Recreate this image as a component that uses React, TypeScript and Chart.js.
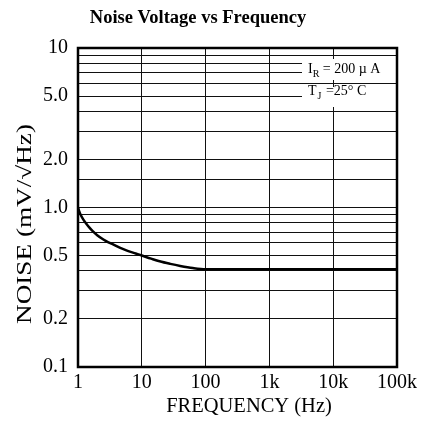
import React, { useEffect, useRef } from "react";
import { Chart, registerables } from "chart.js";

Chart.register(...registerables);

const frequencyHz = [1, 1.05, 1.1, 1.2, 1.35, 1.5, 1.7, 2, 2.5, 3, 3.6, 4.5, 6, 8, 10, 14, 19, 28, 40, 63, 100, 100000];
const noiseValues = [1.0, 0.94, 0.9, 0.845, 0.79, 0.75, 0.71, 0.67, 0.63, 0.605, 0.585, 0.56, 0.535, 0.515, 0.5, 0.478, 0.46, 0.443, 0.43, 0.417, 0.41, 0.41];
const xTickValues = [1, 10, 100, 1000, 10000, 100000];
const xTickLabels = ["1", "10", "100", "1k", "10k", "100k"];
const yLabelValues = [0.1, 0.2, 0.5, 1, 2, 5, 10];
const yLabelTexts = ["0.1", "0.2", "0.5", "1.0", "2.0", "5.0", "10"];

const FONT = "'Liberation Serif', 'Times New Roman', serif";

const overlayPlugin = {
  id: "overlay",
  beforeDatasetsDraw(chart: any) {
    const { ctx, chartArea } = chart;
    ctx.save();
    ctx.fillStyle = "#fff";
    ctx.fillRect(302, 59, chartArea.right - 302 - 1, 21);
    ctx.fillRect(302, 87, chartArea.right - 302 - 1, 20);
    ctx.restore();
  },
  afterDraw(chart: any) {
    const { ctx, chartArea } = chart;
    ctx.save();
    ctx.strokeStyle = "#000";
    ctx.lineWidth = 2.5;
    ctx.strokeRect(chartArea.left, chartArea.top, chartArea.right - chartArea.left, chartArea.bottom - chartArea.top);
    ctx.fillStyle = "#000";
    ctx.textAlign = "center";
    ctx.textBaseline = "middle";
    ctx.font = `bold 18.5px ${FONT}`;
    ctx.fillText("Noise Voltage vs Frequency", 198, 18);
    ctx.font = `20.5px ${FONT}`;
    ctx.fillText("FREQUENCY (Hz)", 249, 407);
    ctx.save();
    ctx.translate(26, 224);
    ctx.rotate(-Math.PI / 2);
    ctx.font = `20px ${FONT}`;
    const label = "NOISE (mV/\u221AHz)";
    const w = ctx.measureText(label).width;
    ctx.scale(200 / w, 1);
    ctx.fillText(label, 0, 0);
    ctx.restore();
    ctx.textAlign = "left";
    ctx.textBaseline = "alphabetic";
    ctx.font = `14px ${FONT}`;
    let x = 308;
    ctx.fillText("I", x, 73);
    x += ctx.measureText("I").width;
    ctx.font = `10px ${FONT}`;
    ctx.fillText("R", x, 77);
    x += ctx.measureText("R").width;
    ctx.font = `14px ${FONT}`;
    ctx.fillText(" = 200 \u00B5 A", x, 73);
    x = 308;
    ctx.fillText("T", x, 95);
    x += ctx.measureText("T").width + 1;
    ctx.font = `10px ${FONT}`;
    ctx.fillText("J", x, 99);
    x += ctx.measureText("J").width + 1;
    ctx.font = `14px ${FONT}`;
    ctx.fillText(" =25\u00B0 C", x, 95);
    ctx.restore();
  },
};

export default function App() {
  const ref = useRef<HTMLCanvasElement | null>(null);
  useEffect(() => {
    document.body.style.margin = "0";
    if (!ref.current) return;
    const chart = new Chart(ref.current, {
      type: "line",
      data: {
        datasets: [
          {
            data: frequencyHz.map((f, i) => ({ x: f, y: noiseValues[i] })),
            borderColor: "#000",
            borderWidth: 2.5,
            pointRadius: 0,
            fill: false,
            cubicInterpolationMode: "monotone",
          },
        ],
      },
      options: {
        animation: false,
        responsive: false,
        maintainAspectRatio: false,
        layout: { padding: { left: 0, right: 38, top: 48, bottom: 0 } },
        plugins: { legend: { display: false }, tooltip: { enabled: false }, title: { display: false } },
        scales: {
          x: {
            type: "logarithmic",
            min: 1,
            max: 100000,
            afterBuildTicks: (scale: any) => {
              scale.ticks = xTickValues.map((v) => ({ value: v }));
            },
            afterFit: (scale: any) => {
              scale.height = 54;
            },
            border: { display: false },
            grid: { color: "#111", lineWidth: 1, drawTicks: false },
            ticks: {
              color: "#000",
              padding: 4,
              maxRotation: 0,
              autoSkip: false,
              font: { family: FONT, size: 20 },
              callback: (v: any) => {
                const i = xTickValues.indexOf(Number(v));
                return i >= 0 ? xTickLabels[i] : "";
              },
            },
          },
          y: {
            type: "logarithmic",
            min: 0.1,
            max: 10,
            afterFit: (scale: any) => {
              scale.width = 78;
            },
            border: { display: false },
            grid: { color: "#111", lineWidth: 1, drawTicks: false },
            ticks: {
              color: "#000",
              padding: 10,
              autoSkip: false,
              font: { family: FONT, size: 20 },
              callback: (v: any) => {
                const n = Number(v);
                const i = yLabelValues.findIndex((t) => Math.abs(t - n) < 1e-9);
                return i >= 0 ? yLabelTexts[i] : "";
              },
            },
          },
        },
      },
      plugins: [overlayPlugin],
    } as any);
    return () => chart.destroy();
  }, []);
  return (
    <div style={{ width: 435, height: 421 }}>
      <canvas ref={ref} width={435} height={421} style={{ width: 435, height: 421, display: "block" }} />
    </div>
  );
}
